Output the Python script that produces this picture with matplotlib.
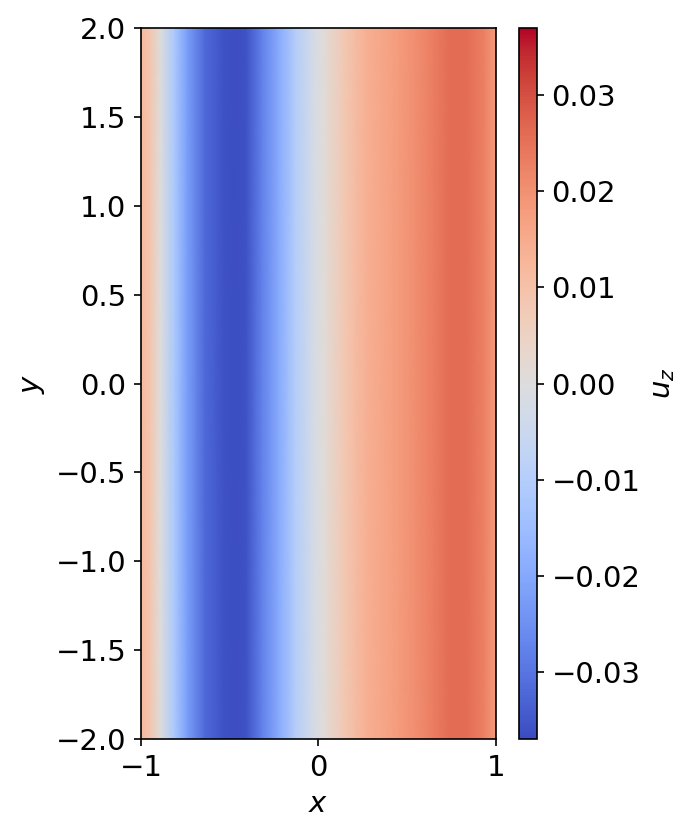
import numpy as np
import matplotlib
matplotlib.use("Agg")
import matplotlib.pyplot as plt

# u_z profile along x (uniform in y)
x_pts = [-1.0, -0.95, -0.89, -0.81, -0.74, -0.64, -0.53, -0.47, -0.41, -0.32,
         -0.23, -0.13, -0.02, 0.03, 0.14, 0.27, 0.45, 0.61, 0.74, 0.83, 0.93, 1.0]
uz_pts = [0.012, 0.009, 0.0, -0.012, -0.022, -0.032, -0.036, -0.0365, -0.036, -0.028,
          -0.020, -0.010, -0.002, 0.001, 0.008, 0.014, 0.018, 0.022, 0.026, 0.026, 0.023, 0.018]
y_lim = [-2.0, 2.0]
vmin, vmax = -0.037, 0.037
x_ticks = [-1, 0, 1]
y_ticks = [-2.0, -1.5, -1.0, -0.5, 0.0, 0.5, 1.0, 1.5, 2.0]
cb_ticks = [-0.03, -0.02, -0.01, 0.0, 0.01, 0.02, 0.03]

plt.rcParams['font.size'] = 14
fig = plt.figure(figsize=(697 / 150, 836 / 150), dpi=150)
ax = fig.add_axes([0.2023, 0.116, 0.5093, 0.8505])
cax = fig.add_axes([0.7446, 0.116, 0.0258, 0.8505])

X, Y = np.meshgrid(np.array(x_pts), np.array(y_lim))
Z = np.vstack([uz_pts, uz_pts])
m = ax.pcolormesh(X, Y, Z, cmap='coolwarm', vmin=vmin, vmax=vmax, shading='gouraud')
ax.set_xlim(-1, 1)
ax.set_ylim(-2, 2)
ax.set_xticks(x_ticks)
ax.set_yticks(y_ticks)
ax.set_xlabel('$x$')
ax.set_ylabel('$y$')

cb = fig.colorbar(m, cax=cax)
cb.set_ticks(cb_ticks)
cb.set_label('$u_z$')

fig.savefig('out.png', dpi=150)
